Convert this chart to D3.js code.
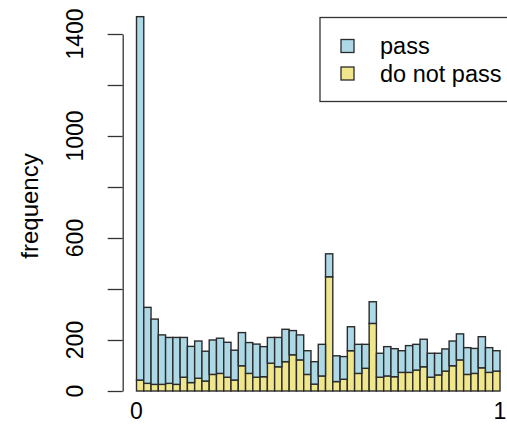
<!DOCTYPE html>
<html>
<head>
<meta charset="utf-8">
<script src="https://cdnjs.cloudflare.com/ajax/libs/d3/7.8.5/d3.min.js"></script>
<style>
  body { margin: 0; background: #fff; }
  svg text { font-family: "Liberation Sans", Arial, sans-serif; fill: #000; }
</style>
</head>
<body>
<script>
(function() {

  // 50 bins over [0, 1]
  const binCount = 50;
  const seriesNames = ["do not pass", "pass"];
  const seriesColors = ["#F0E68C", "#ADD8E6"];

  // counts per bin
  const doNotPass = [43, 30, 26, 26, 30, 26, 54, 33, 50, 39,
                     65, 69, 54, 43, 99, 69, 54, 56, 109, 95,
                     115, 142, 122, 65, 27, 59, 448, 37, 46, 158,
                     69, 89, 265, 54, 59, 56, 73, 73, 82, 95,
                     54, 63, 78, 99, 122, 65, 69, 91, 73, 78];
  const pass = [1425, 298, 256, 194, 180, 184, 156, 142, 146, 117,
                135, 138, 137, 117, 130, 121, 130, 118, 101, 115,
                127, 95, 98, 93, 88, 124, 90, 101, 89, 94,
                114, 94, 85, 94, 115, 110, 85, 105, 101, 108,
                94, 85, 87, 97, 102, 105, 98, 122, 97, 80];

  const yTicks = [0, 200, 400, 600, 800, 1000, 1200, 1400];
  const yTickLabels = ["0", "200", "", "600", "", "1000", "", "1400"];
  const xTickLabels = ["0", "1"];

  const width = 507, height = 424;
  const fontSize = "23px";

  const svg = d3.select("body").append("svg")
    .attr("width", width)
    .attr("height", height);

  const x = d3.scaleLinear().domain([0, 1]).range([136.5, 500]);
  const y = d3.scaleLinear().domain([0, 1400]).range([391, 34]);

  // table for d3.stack
  const rows = pass.map((p, i) => ({
    lo: i / binCount,
    hi: (i + 1) / binCount,
    "do not pass": doNotPass[i],
    "pass": p
  }));

  const stacked = d3.stack().keys(seriesNames)(rows);

  svg.append("g").selectAll("g")
    .data(stacked)
    .enter()
    .append("g")
      .attr("fill", (d, i) => seriesColors[i])
    .selectAll("rect")
    .data((d) => d)
    .enter()
    .append("rect")
      .attr("x", (d) => x(d.data.lo))
      .attr("width", (d) => x(d.data.hi) - x(d.data.lo))
      .attr("y", (d) => y(d[1]))
      .attr("height", (d) => y(d[0]) - y(d[1]))
      .attr("stroke", "#2b2b2b")
      .attr("stroke-width", 1.4);

  // y axis
  const yAxis = d3.axisLeft(y)
    .tickValues(yTicks)
    .tickSize(15)
    .tickSizeOuter(0)
    .tickFormat("");

  const yg = svg.append("g")
    .attr("transform", "translate(122.7, 0)")
    .call(yAxis);
  yg.select(".domain").attr("stroke", "#333").attr("stroke-width", 1.3);
  yg.selectAll(".tick line").attr("stroke", "#333").attr("stroke-width", 1.3);

  svg.append("g").selectAll("text")
    .data(yTicks)
    .enter()
    .append("text")
      .attr("transform", (d) => "translate(75," + y(d) + ")rotate(-90)")
      .attr("text-anchor", "middle")
      .attr("dy", "0.36em")
      .style("font-size", fontSize)
      .text((d, i) => yTickLabels[i]);

  // x labels only
  svg.append("g").selectAll("text")
    .data(xTickLabels)
    .enter()
    .append("text")
      .attr("x", (d) => x(+d))
      .attr("y", 411)
      .attr("dy", "0.36em")
      .attr("text-anchor", "middle")
      .style("font-size", fontSize)
      .text((d) => d);

  svg.append("text")
    .attr("transform", "translate(29, 206)rotate(-90)")
    .attr("text-anchor", "middle")
    .attr("dy", "0.36em")
    .style("font-size", "24px")
    .text("frequency");

  // legend
  const legend = svg.append("g");
  legend.append("rect")
    .attr("x", 320)
    .attr("y", 17.5)
    .attr("width", 200)
    .attr("height", 84)
    .attr("fill", "#fff")
    .attr("stroke", "#333")
    .attr("stroke-width", 1.3);

  const legendItems = ["pass", "do not pass"];
  const legendColors = [seriesColors[1], seriesColors[0]];
  legendItems.forEach((name, i) => {
    legend.append("rect")
      .attr("x", 341)
      .attr("y", 39.5 + i * 27.5)
      .attr("width", 13)
      .attr("height", 13)
      .attr("fill", legendColors[i])
      .attr("stroke", "#2b2b2b")
      .attr("stroke-width", 1.3);
    legend.append("text")
      .attr("x", 380)
      .attr("y", 46 + i * 27.5)
      .attr("dy", "0.36em")
      .style("font-size", "23.5px")
      .text(name);
  });

})();
</script>
</body>
</html>
